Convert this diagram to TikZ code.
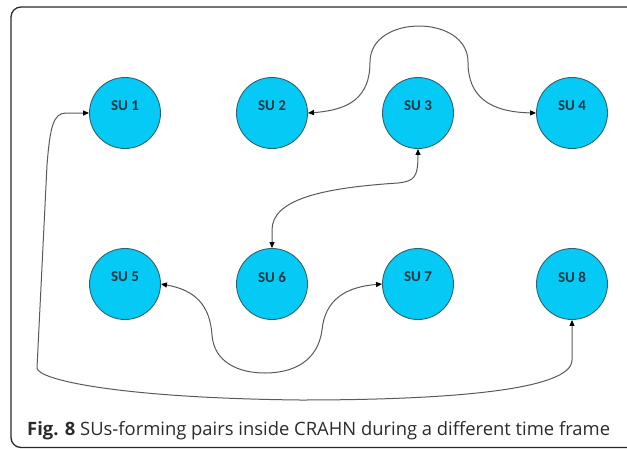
\documentclass[tikz,border=0pt]{standalone}
\usepackage{fontspec}
\setmainfont{Open Sans}
\newfontfamily\labelfont{Carlito}
\usetikzlibrary{arrows.meta}

\definecolor{sufill}{HTML}{05CAF5}
\definecolor{suedge}{HTML}{2E6272}
\definecolor{sutext}{HTML}{163845}
\definecolor{linkgray}{HTML}{5A5A5A}
\definecolor{framegray}{HTML}{2A2A2A}
\definecolor{captiongray}{HTML}{2B2B2B}

\tikzset{
  su/.style={circle, draw=suedge, line width=0.9pt, fill=sufill,
             minimum size=71pt, inner sep=0pt},
  sulabel/.style={font=\labelfont\bfseries\fontsize{15}{15}\selectfont,
                  text=sutext, inner sep=0pt},
  link/.style={draw=linkgray, line width=1pt,
               {Triangle[length=6pt,width=5pt,color=black]}-{Triangle[length=6pt,width=5pt,color=black]}},
  frame/.style={draw=framegray, line width=1.3pt, rounded corners=10pt},
}

\begin{document}
\begin{tikzpicture}[x=1pt, y=-1pt]
  \useasboundingbox (0,0) rectangle (627,448);
  \clip (0,0) rectangle (627,448);

  % outer rounded frame (right and bottom edges run off the page)
  \draw[frame] (11,7) rectangle (660,447.5);

  % secondary users, top row
  \node[su] (su1) at (125,113) {};
  \node[su] (su2) at (272,113) {};
  \node[su] (su3) at (418,113) {};
  \node[su] (su4) at (572,113) {};
  % secondary users, bottom row
  \node[su] (su5) at (125,284) {};
  \node[su] (su6) at (272,284) {};
  \node[su] (su7) at (418,284) {};
  \node[su] (su8) at (572,284) {};

  % labels sit a little above the centre of each circle
  \foreach \n in {1,...,8}
    \node[sulabel] (lbl\n) at ([yshift=7pt]su\n.center) {SU \n};

  % SU2 <-> SU4, looping over SU3
  \draw[link] (su2.east) .. controls (350,110) and (370,97) .. (370,62)
              .. controls (370,14) and (468,14) .. (468,62)
              .. controls (468,97) and (490,112) .. (su4.west);

  % SU3 <-> SU6
  \draw[link] (su3.south) .. controls (418,178) and (414,181) .. (398,183)
              .. controls (320,188) and (272,200) .. (272,230)
              -- (su6.north);

  % SU5 <-> SU7, dipping below SU6
  \draw[link] (su5.east) .. controls (195,290) and (210,305) .. (212,335)
              .. controls (214,362) and (238,373) .. (265,373)
              .. controls (295,373) and (318,360) .. (322,330)
              .. controls (325,300) and (345,287) .. (su7.west);

  % SU1 <-> SU8, around the left and bottom
  \draw[link] (su1.west) -- (66,113)
              .. controls (53,113) and (50,128) .. (47,165)
              -- (37,368)
              .. controls (38,380) and (120,398) .. (300,400)
              .. controls (450,400) and (572,390) .. (572,360)
              -- (su8.south);

  % caption
  \node[anchor=base west, inner sep=0pt, text=captiongray,
        font=\fontsize{18.4}{18.4}\selectfont] (caption) at (27,435)
    {\textbf{Fig. 8} SUs-forming pairs inside CRAHN during a different time frame};
\end{tikzpicture}
\end{document}
